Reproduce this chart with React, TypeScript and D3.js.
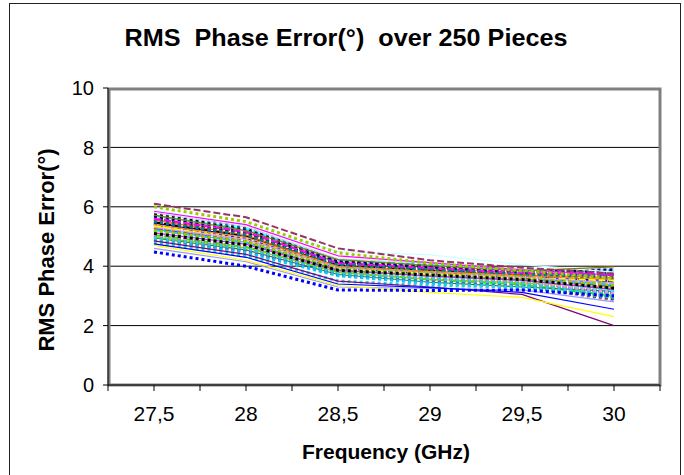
import React from "react";
import * as d3 from "d3";

// Frequency points (GHz), shown with a comma decimal separator
const frequencies = ["27,5", "28", "28,5", "29", "29,5", "30"];
const yTicks = [0, 2, 4, 6, 8, 10];

// RMS phase error (degrees) per piece, one row per measured piece
const pieceErrors: number[][] = [
  [5.75, 5.3, 4.15, 3.98, 3.8, 3.85],
  [5.6, 5.15, 4.1, 3.92, 3.75, 3.7],
  [5.5, 5.05, 4.05, 3.88, 3.7, 3.6],
  [5.45, 5.0, 4.0, 3.82, 3.7, 3.5],
  [5.4, 4.95, 3.95, 3.76, 3.65, 3.4],
  [5.35, 4.9, 3.95, 3.78, 3.62, 3.3],
  [5.3, 4.85, 3.9, 3.7, 3.6, 3.55],
  [5.25, 4.8, 3.88, 3.66, 3.52, 3.2],
  [5.2, 4.78, 3.85, 3.62, 3.48, 3.1],
  [5.15, 4.75, 3.9, 3.65, 3.5, 3.25],
  [5.1, 4.7, 3.82, 3.58, 3.42, 2.95],
  [5.05, 4.65, 3.8, 3.55, 3.38, 3.0],
  [5.0, 4.6, 3.76, 3.5, 3.34, 2.85],
  [4.95, 4.55, 3.72, 3.46, 3.3, 3.15],
  [5.65, 5.2, 4.12, 3.96, 3.78, 3.78],
  [5.55, 5.1, 4.08, 3.9, 3.72, 3.65],
  [5.48, 5.02, 4.02, 3.85, 3.68, 3.45],
  [5.38, 4.92, 3.98, 3.8, 3.64, 3.6],
  [5.28, 4.88, 3.92, 3.74, 3.6, 3.35],
  [5.18, 4.82, 3.87, 3.7, 3.56, 3.5],
  [5.08, 4.72, 3.84, 3.64, 3.5, 3.05],
  [4.98, 4.62, 3.8, 3.56, 3.44, 3.3],
  [4.9, 4.5, 3.7, 3.45, 3.32, 2.9],
  [5.7, 5.25, 4.2, 4.05, 3.85, 3.82],
  [5.58, 5.12, 4.06, 3.9, 3.74, 3.7],
  [5.42, 4.98, 4.0, 3.84, 3.66, 3.58],
  [5.32, 4.9, 3.94, 3.76, 3.62, 3.42],
  [5.22, 4.8, 3.9, 3.72, 3.57, 3.38],
  [5.12, 4.74, 3.86, 3.67, 3.53, 3.22],
  [5.02, 4.64, 3.82, 3.6, 3.47, 3.12],
  [4.92, 4.52, 3.74, 3.5, 3.36, 3.08],
  [4.85, 4.45, 3.68, 3.42, 3.28, 2.95],
  [5.62, 5.18, 4.14, 3.95, 3.76, 3.75],
  [5.52, 5.08, 4.1, 3.92, 3.72, 3.68],
  [5.8, 5.32, 4.25, 4.1, 3.88, 3.9],
  [5.55, 5.05, 3.98, 3.82, 3.7, 3.62],
  [5.45, 4.95, 3.96, 3.78, 3.64, 3.48],
  [5.35, 4.88, 3.93, 3.74, 3.61, 3.52],
  [5.25, 4.84, 3.9, 3.7, 3.58, 3.28],
  [5.15, 4.76, 3.88, 3.68, 3.54, 3.18],
  [5.05, 4.68, 3.84, 3.63, 3.48, 3.1],
  [4.95, 4.6, 3.79, 3.58, 3.42, 3.02],
  [5.68, 5.22, 4.16, 4.0, 3.8, 3.88],
  [5.6, 5.16, 4.1, 3.94, 3.77, 3.72],
  [5.5, 5.06, 4.04, 3.88, 3.71, 3.66],
  [5.4, 4.97, 3.99, 3.82, 3.67, 3.56],
  [5.3, 4.9, 3.95, 3.78, 3.63, 3.44],
  [5.2, 4.82, 3.91, 3.74, 3.59, 3.34],
  [5.1, 4.72, 3.86, 3.7, 3.55, 3.26],
  // pieces at the edges of the spread
  [5.9, 5.35, 4.5, 4.38, 4.05, 3.8],
  [5.85, 5.4, 4.35, 4.12, 3.88, 3.7],
  [5.72, 5.2, 4.22, 4.02, 3.84, 3.98],
  [4.6, 4.15, 3.3, 3.25, 3.2, 2.8],
  [4.8, 4.35, 3.5, 3.35, 3.3, 3.0],
  [4.85, 4.4, 3.5, 3.3, 3.05, 2.0],
  [4.7, 4.2, 3.35, 3.12, 2.95, 2.3],
  [4.75, 4.3, 3.4, 3.28, 3.12, 2.55],
  [4.48, 4.0, 3.2, 3.18, 3.2, 3.0],
  [6.0, 5.5, 4.45, 4.1, 3.85, 3.6],
  [6.1, 5.65, 4.6, 4.2, 3.95, 3.75],
];

const pieceColors = [
  "#000000", "#008080", "#FF9900", "#000080", "#339966", "#FF99CC", "#800000", "#00CCFF",
  "#FF00FF", "#FFCC00", "#969696", "#00FF00", "#9999FF", "#008080", "#003366", "#FF6600",
  "#000000", "#FF8080", "#0066CC", "#FFCC99", "#CC99FF", "#99CC00", "#993300", "#00FFFF",
  "#800080", "#333399", "#FFCC00", "#33CCCC", "#FF00FF", "#008000", "#666699", "#00CCFF",
  "#C0C0C0", "#000000", "#CCCCFF", "#FF6600", "#0000FF", "#FFFF00", "#993366", "#00FFFF",
  "#FF99CC", "#33CCCC", "#000080", "#FF00FF", "#008080", "#FF9900", "#CC99FF", "#99CC00",
  "#000000", "#CCFFFF", "#FF00FF", "#808000", "#9999FF", "#33CCCC", "#800080", "#FFFF00",
  "#0000FF", "#0000FF", "#99CC00", "#993366",
];

const pieceStyles = [
  "dot", "dash", "dot", "solid", "dot", "dash", "dot", "solid",
  "dot", "dot", "dot", "dash", "dot", "solid", "dot", "dot",
  "dash", "dot", "dash", "dot", "dot", "solid", "dot", "dash",
  "dot", "dot", "dot", "dash", "solid", "dot", "dot", "dot",
  "dash", "dot", "solid", "solid", "dot", "dash", "dot", "dot",
  "dot", "dot", "dot", "dash", "dot", "solid", "solid", "dot",
  "dot", "solid", "solid", "solid", "solid", "dot", "solid", "solid",
  "solid", "dot", "dot", "dash",
];

const lineLook: Record<string, { dash?: string; width: number }> = {
  solid: { width: 1.2 },
  dash: { dash: "7,3", width: 2 },
  dot: { dash: "3,3", width: 3 },
};

const W = 684;
const H = 475;
const plot = { left: 108, right: 660, top: 88, bottom: 385 };
const FONT = "'Liberation Sans', Arial, sans-serif";

export default function App() {
  const x = d3
    .scaleBand<string>()
    .domain(frequencies)
    .range([plot.left, plot.right])
    .padding(0);
  const cx = (f: string) => (x(f) as number) + x.bandwidth() / 2;
  const y = d3.scaleLinear().domain([0, 10]).range([plot.bottom, plot.top]);

  const line = d3
    .line<number>()
    .x((_, i) => cx(frequencies[i]))
    .y((v) => y(v));

  // x tick marks sit on category boundaries and centres
  const xTickPositions: number[] = [];
  frequencies.forEach((f) => {
    xTickPositions.push(x(f) as number, cx(f));
  });
  xTickPositions.push(plot.right);

  return (
    <svg
      width={W}
      height={H}
      style={{ position: "absolute", left: 0, top: 0, background: "#fff" }}
      fontFamily={FONT}
    >
      {/* chart frame */}
      <rect x={9.5} y={3.5} width={671} height={H + 10} fill="#fff" stroke="#222" strokeWidth={1} />

      <text
        x={346}
        y={46}
        textAnchor="middle"
        fontSize={24}
        fontWeight="bold"
        fill="#000"
        textLength={443}
        lengthAdjust="spacingAndGlyphs"
      >
        RMS{"\u00a0\u00a0"}Phase Error(°){"\u00a0\u00a0"}over 250 Pieces
      </text>

      {/* gridlines */}
      {yTicks
        .filter((t) => t > 0 && t < 10)
        .map((t) => (
          <line key={t} x1={plot.left} x2={plot.right} y1={y(t)} y2={y(t)} stroke="#000" strokeWidth={1} />
        ))}

      {/* pieces */}
      <g fill="none" strokeLinejoin="round">
        {pieceErrors.map((vals, i) => {
          const look = lineLook[pieceStyles[i]];
          return (
            <path
              key={i}
              d={line(vals) ?? ""}
              stroke={pieceColors[i]}
              strokeWidth={look.width}
              strokeDasharray={look.dash}
            />
          );
        })}
      </g>

      {/* plot area border */}
      <rect
        x={plot.left + 1}
        y={plot.top + 1}
        width={plot.right - plot.left - 1}
        height={plot.bottom - plot.top - 1}
        fill="none"
        stroke="#808080"
        strokeWidth={3}
      />
      <line x1={plot.left} x2={plot.left} y1={plot.top} y2={plot.bottom} stroke="#000" strokeWidth={1} />
      <line x1={plot.left} x2={plot.right} y1={plot.bottom} y2={plot.bottom} stroke="#000" strokeWidth={1} />

      {/* y axis */}
      {yTicks.map((t) => (
        <g key={t}>
          <line x1={plot.left - 5} x2={plot.left} y1={y(t)} y2={y(t)} stroke="#000" />
          <text x={94} y={y(t)} dy="0.36em" textAnchor="end" fontSize={20} fill="#000">
            {t}
          </text>
        </g>
      ))}

      {/* x axis */}
      {xTickPositions.map((p, i) => (
        <line key={i} x1={p} x2={p} y1={plot.bottom} y2={plot.bottom + 6} stroke="#000" />
      ))}
      {frequencies.map((f) => (
        <text key={f} x={cx(f)} y={421} textAnchor="middle" fontSize={21} fill="#000">
          {f}
        </text>
      ))}

      <text x={386} y={459} textAnchor="middle" fontSize={21} fontWeight="bold" fill="#000">
        Frequency (GHz)
      </text>
      <text
        transform="translate(54,250) rotate(-90)"
        textAnchor="middle"
        fontSize={22}
        fontWeight="bold"
        fill="#000"
      >
        RMS Phase Error(°)
      </text>
    </svg>
  );
}
